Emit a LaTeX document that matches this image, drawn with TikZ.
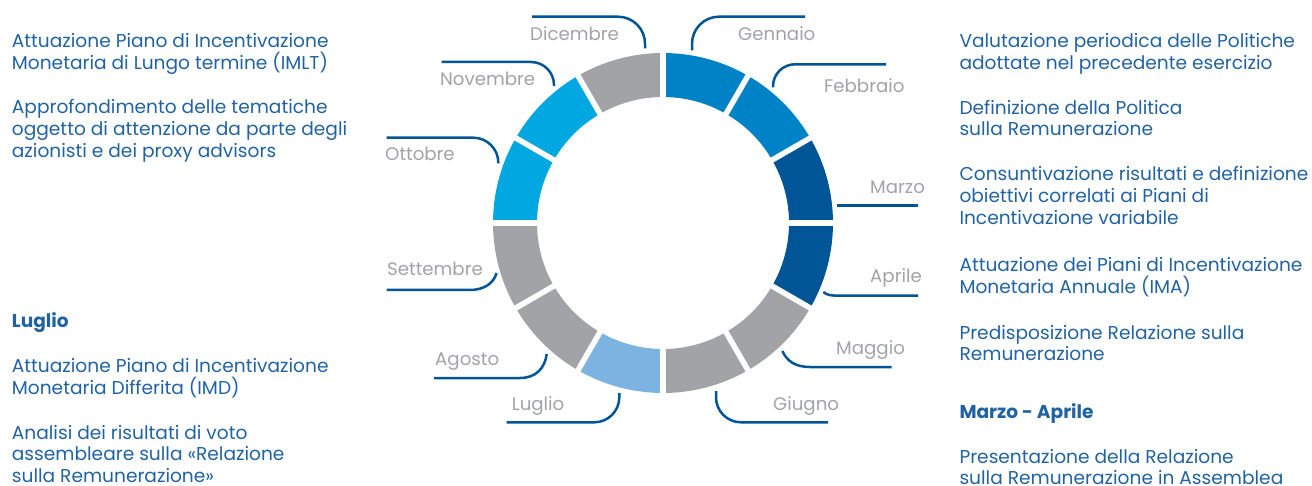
\documentclass[tikz,border=0pt]{standalone}
\usepackage{fontspec}
\setmainfont{Poppins}
\definecolor{midblue}{HTML}{0082C6}
\definecolor{darkblue}{HTML}{005597}
\definecolor{ringgray}{HTML}{A2A3A6}
\definecolor{lightblue}{HTML}{7DB3E1}
\definecolor{cyanblue}{HTML}{00A7E1}
\definecolor{lineblue}{HTML}{005597}
\definecolor{textblue}{HTML}{2163A2}
\definecolor{monthgray}{HTML}{A2A3A6}
\newcommand\textlines[1]{\parbox[t]{420pt}{\raggedright #1}}
\begin{document}
\begin{tikzpicture}[x=1pt,y=-1pt,
  leader/.style={draw=lineblue, line width=2.5pt},
  month/.style={anchor=base west, inner sep=0pt, text=monthgray,
    font=\fontsize{18.2}{20}\selectfont},
  para/.style={anchor=base west, inner sep=0pt, text=textblue,
    font=\fontsize{18.6}{21.6}\selectfont},
  head/.style={para, font=\fontsize{18.6}{21.6}\selectfont\bfseries}]
\useasboundingbox (0,0) rectangle (1312,486);

% ring of the twelve months, clockwise from the top
\begin{scope}[shift={(663,223)}, y=1pt]
  \foreach \c [count=\k from 0] in {midblue,midblue,darkblue,darkblue,ringgray,ringgray,
      lightblue,ringgray,ringgray,cyanblue,cyanblue,ringgray} {
    \pgfmathsetmacro\a{90-30*\k}
    \pgfmathsetmacro\b{60-30*\k}
    \fill[\c] (\a:170) arc[start angle=\a, end angle=\b, radius=170]
      -- (\b:126) arc[start angle=\b, end angle=\a, radius=126] -- cycle;
  }
  \foreach \k in {0,...,11}
    \draw[white, line width=5.5pt] (90-30*\k:120) -- (90-30*\k:176);
\end{scope}

% leader lines
\coordinate (decA) at (532,16.7);   \coordinate (decB) at (645,48.5);
\coordinate (janA) at (692,50.5);   \coordinate (janB) at (805,16.7);
\coordinate (febA) at (773,87.5);   \coordinate (febB) at (886,64.3);
\coordinate (marA) at (837,205.7);  \coordinate (marB) at (918,205.7);
\coordinate (aprA) at (823.3,292);  \coordinate (aprB) at (918,295.7);
\coordinate (mayA) at (782.3,351);  \coordinate (mayB) at (891.7,367);
\coordinate (junA) at (716,391);    \coordinate (junB) at (828,422.3);
\coordinate (julA) at (619.3,393);  \coordinate (julB) at (506.7,422.3);
\coordinate (augA) at (546.7,354);  \coordinate (augB) at (434,378);
\coordinate (sepA) at (386.7,290);  \coordinate (sepB) at (496.5,273);
\coordinate (octA) at (386.7,137.7);\coordinate (octB) at (498.3,163.5);
\coordinate (novA) at (441.7,62);   \coordinate (novB) at (554,86);

\draw[leader, rounded corners=27pt] (decA) -| (decB);
\draw[leader, rounded corners=27pt] (janA) |- (janB);
\draw[leader, rounded corners=22pt] (febA) |- (febB);
\draw[leader] (marA) -- (marB);
\draw[leader] (aprA) .. controls (827,295.2) and (831,295.7) .. (840,295.7) -- (aprB);
\draw[leader] (mayA) .. controls (787,361) and (795,367) .. (810,367) -- (mayB);
\draw[leader, rounded corners=25pt] (junA) |- (junB);
\draw[leader, rounded corners=25pt] (julA) |- (julB);
\draw[leader] (augA) .. controls (545,368) and (536,378) .. (520,378) -- (augB);
\draw[leader] (sepA) -- (470,290) .. controls (484,290) and (494,283) .. (sepB);
\draw[leader, rounded corners=25pt] (octA) -| (octB);
\draw[leader, rounded corners=23pt] (novA) -| (novB);

% month labels
\node[month] (dic) at (530,41)    {Dicembre};
\node[month] (gen) at (738,41)    {Gennaio};
\node[month] (feb) at (824,92.5)  {Febbraio};
\node[month] (mar) at (870,193.3) {Marzo};
\node[month] (apr) at (870,282.7) {Aprile};
\node[month] (mag) at (836,354.3) {Maggio};
\node[month] (giu) at (773,410)   {Giugno};
\node[month] (lug) at (511.7,410) {Luglio};
\node[month] (ago) at (435,365)   {Agosto};
\node[month] (set) at (387,275.7) {Settembre};
\node[month] (ott) at (385,160.7) {Ottobre};
\node[month] (nov) at (440,85.7)  {Novembre};

% left column
\node[para] (l1) at (11.7,47.5) {\textlines{Attuazione Piano di Incentivazione\\Monetaria di Lungo termine (IMLT)}};
\node[para] (l2) at (11.7,114)  {\textlines{Approfondimento delle tematiche\\oggetto di attenzione da parte degli\\azionisti e dei proxy advisors}};
\node[head] (l3) at (11.7,327.7) {Luglio};
\node[para] (l4) at (11.7,372.7) {\textlines{Attuazione Piano di Incentivazione\\Monetaria Differita (IMD)}};
\node[para] (l5) at (11.7,439.3) {\textlines{Analisi dei risultati di voto\\assembleare sulla «Relazione\\sulla Remunerazione»}};

% right column
\node[para] (r1) at (959.3,47.7)  {\textlines{Valutazione periodica delle Politiche\\adottate nel precedente esercizio}};
\node[para] (r2) at (959.3,114.3) {\textlines{Definizione della Politica\\sulla Remunerazione}};
\node[para] (r3) at (959.3,181)   {\textlines{Consuntivazione risultati e definizione\\obiettivi correlati ai Piani di\\Incentivazione variabile}};
\node[para] (r4) at (959.3,271.5) {\textlines{Attuazione dei Piani di Incentivazione\\Monetaria Annuale (IMA)}};
\node[para] (r5) at (959.3,339.3) {\textlines{Predisposizione Relazione sulla\\Remunerazione}};
\node[head] (r6) at (959.3,418.3) {Marzo - Aprile};
\node[para] (r7) at (959.3,463)   {\textlines{Presentazione della Relazione\\sulla Remunerazione in Assemblea}};
\end{tikzpicture}
\end{document}
